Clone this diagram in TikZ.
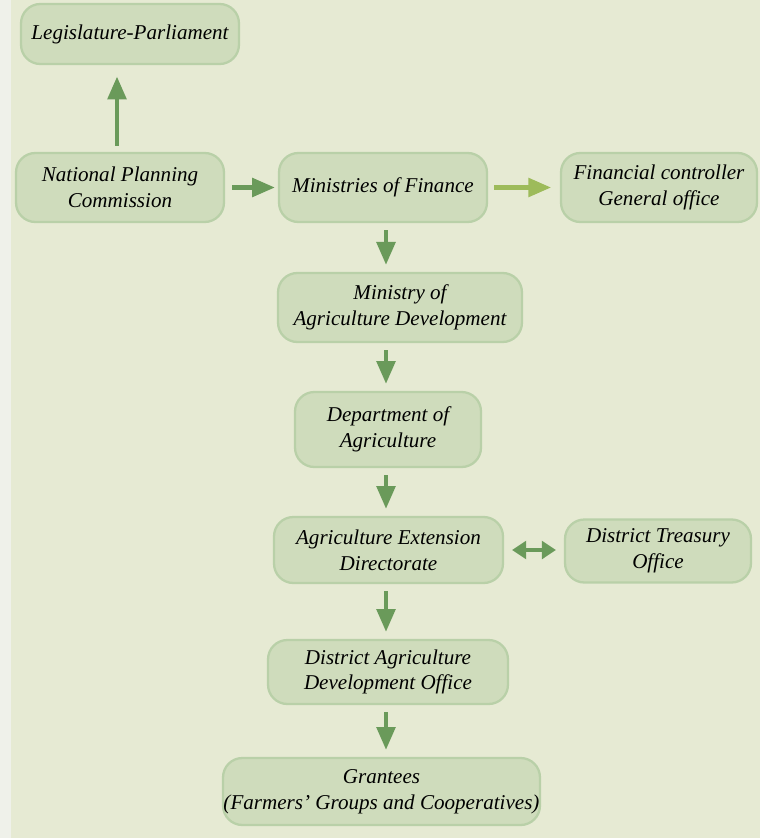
\documentclass[tikz,border=0pt]{standalone}
\usepackage{fontspec}
\setmainfont{Liberation Serif}
\usetikzlibrary{arrows.meta,positioning}
\definecolor{bgpage}{HTML}{E6EAD3}
\definecolor{bgstrip}{HTML}{EFF1EA}
\definecolor{boxfill}{HTML}{CFDCBC}
\definecolor{boxline}{HTML}{B9D0A8}
\definecolor{arrdark}{HTML}{6A9A5A}
\definecolor{arrlight}{HTML}{9DBB5A}

\begin{document}
\begin{tikzpicture}[x=0.02cm,y=-0.02cm,
  box/.style={draw=boxline,line width=1.3pt,fill=boxfill,rounded corners=11pt,
    align=center,inner sep=0pt,font=\fontsize{12}{14.7}\selectfont\itshape},
  flow/.style={draw=arrdark,line width=2.5pt,-{Triangle[length=13pt,width=10.5pt]},
    shorten <=4pt,shorten >=4pt},
  twoway/.style={draw=arrdark,line width=2.5pt,
    {Triangle[length=8pt,width=10pt]}-{Triangle[length=8pt,width=10pt]},
    shorten <=4.5pt,shorten >=4.5pt}]
  \fill[bgstrip] (0,0) rectangle (11,838);
  \fill[bgpage] (11,0) rectangle (760,838);
  \useasboundingbox (0,0) rectangle (760,838);

  \node[box,minimum width=4.36cm,minimum height=1.2cm] (leg) at (130,34) {Legislature-Parliament};
  \node[box,minimum width=4.16cm,minimum height=1.38cm] (npc) at (120,187.5) {National Planning\\Commission};
  \node[box,minimum width=4.16cm,minimum height=1.38cm] (mof) at (383,187.5) {Ministries of Finance};
  \node[box,minimum width=3.92cm,minimum height=1.38cm] (fcgo) at (659,187.5) {Financial controller\\General office};
  \node[box,minimum width=4.88cm,minimum height=1.38cm] (moad) at (400,307.5) {Ministry of\\Agriculture Development};
  \node[box,minimum width=3.72cm,minimum height=1.5cm] (doa) at (388,429.5) {Department of\\Agriculture};
  \node[box,minimum width=4.58cm,minimum height=1.32cm] (aed) at (388.5,550) {Agriculture Extension\\Directorate};
  \node[box,minimum width=3.72cm,minimum height=1.26cm] (dto) at (658,551) {District Treasury\\Office};
  \node[box,minimum width=4.8cm,minimum height=1.28cm] (dado) at (388,672) {District Agriculture\\Development Office};
  \node[box,minimum width=6.34cm,minimum height=1.34cm] (grant) at (381.5,791.5) {Grantees\\(Farmers’ Groups and Cooperatives)};
  \coordinate (spine) at (386,0);

  \draw[flow,shorten <=3.5pt,shorten >=6.5pt] (npc.north -| 117,0) -- (leg.south -| 117,0);
  \draw[flow,shorten >=1.7pt] (npc) -- (mof);
  \draw[flow,draw=arrlight,shorten <=3.4pt,shorten >=5pt] (mof) -- (fcgo);
  \draw[flow] (mof.south -| spine) -- (moad.north -| spine);
  \draw[flow] (moad.south -| spine) -- (doa.north -| spine);
  \draw[flow] (doa.south -| spine) -- (aed.north -| spine);
  \draw[twoway] (aed) -- (aed -| dto.west);
  \draw[flow] (aed.south -| spine) -- (dado.north -| spine);
  \draw[flow] (dado.south -| spine) -- (grant.north -| spine);
\end{tikzpicture}
\end{document}
